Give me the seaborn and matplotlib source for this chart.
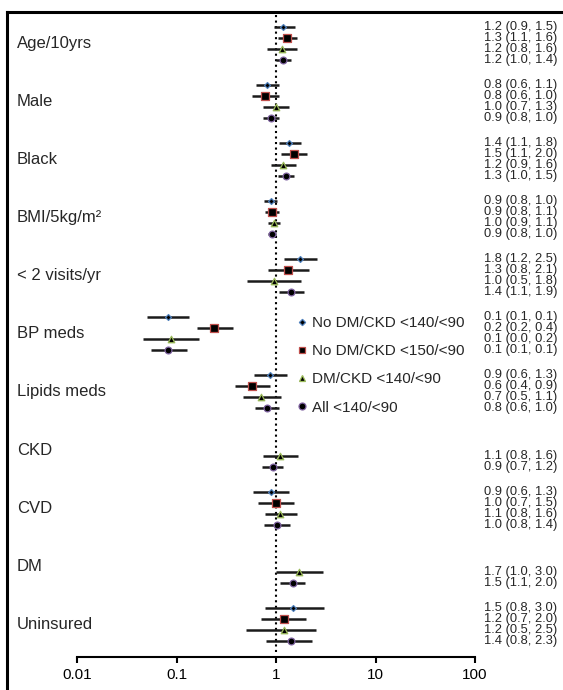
import numpy as np
import pandas as pd
import matplotlib
matplotlib.use('Agg')
import matplotlib.pyplot as plt
import matplotlib.transforms as mtrans
from matplotlib.lines import Line2D
import seaborn as sns

sns.set_theme(style="white")
plt.rcParams['font.family'] = ['Liberation Sans', 'DejaVu Sans']

nan = np.nan

groups = ['Age/10yrs', 'Male', 'Black', 'BMI/5kg/m\u00b2', '< 2 visits/yr', 'BP meds',
          'Lipids meds', 'CKD', 'CVD', 'DM', 'Uninsured']
series = ['No DM/CKD <140/<90', 'No DM/CKD <150/<90', 'DM/CKD <140/<90', 'All <140/<90']

# odds ratios + CI (nan = variable not in that model)
est_a = [1.17, 0.81, 1.36, 0.88, 1.74, 0.082, 0.87, nan, 0.89, nan, 1.48]
lo_a = [0.96, 0.63, 1.06, 0.76, 1.20, 0.050, 0.60, nan, 0.59, nan, 0.78]
hi_a = [1.55, 1.06, 1.77, 1.02, 2.56, 0.135, 1.30, nan, 1.35, nan, 3.0]

est_b = [1.30, 0.78, 1.53, 0.91, 1.33, 0.238, 0.58, nan, 0.99, nan, 1.2]
lo_b = [1.05, 0.58, 1.13, 0.78, 0.83, 0.162, 0.39, nan, 0.66, nan, 0.7]
hi_b = [1.61, 1.06, 2.06, 1.08, 2.16, 0.367, 0.87, nan, 1.53, nan, 2.0]

est_c = [1.14, 1.0, 1.17, 0.955, 0.955, 0.087, 0.71, 1.10, 1.10, 1.72, 1.2]
lo_c = [0.82, 0.735, 0.885, 0.837, 0.515, 0.046, 0.47, 0.745, 0.77, 1.0, 0.5]
hi_c = [1.64, 1.36, 1.58, 1.10, 1.77, 0.168, 1.11, 1.65, 1.63, 2.99, 2.5]

est_d = [1.18, 0.885, 1.26, 0.91, 1.41, 0.083, 0.81, 0.93, 1.02, 1.48, 1.4]
lo_d = [1.0, 0.746, 1.05, 0.837, 1.06, 0.055, 0.61, 0.73, 0.76, 1.10, 0.8]
hi_d = [1.40, 1.06, 1.53, 1.0, 1.91, 0.127, 1.08, 1.18, 1.38, 1.97, 2.3]

# printed estimates in the right-hand column
lab_a = ['1.2 (0.9, 1.5)', '0.8 (0.6, 1.1)', '1.4 (1.1, 1.8)', '0.9 (0.8, 1.0)', '1.8 (1.2, 2.5)',
         '0.1 (0.1, 0.1)', '0.9 (0.6, 1.3)', '', '0.9 (0.6, 1.3)', '', '1.5 (0.8, 3.0)']
lab_b = ['1.3 (1.1, 1.6)', '0.8 (0.6, 1.0)', '1.5 (1.1, 2.0)', '0.9 (0.8, 1.1)', '1.3 (0.8, 2.1)',
         '0.2 (0.2, 0.4)', '0.6 (0.4, 0.9)', '', '1.0 (0.7, 1.5)', '', '1.2 (0.7, 2.0)']
lab_c = ['1.2 (0.8, 1.6)', '1.0 (0.7, 1.3)', '1.2 (0.9, 1.6)', '1.0 (0.9, 1.1)', '1.0 (0.5, 1.8)',
         '0.1 (0.0, 0.2)', '0.7 (0.5, 1.1)', '1.1 (0.8, 1.6)', '1.1 (0.8, 1.6)', '1.7 (1.0, 3.0)', '1.2 (0.5, 2.5)']
lab_d = ['1.2 (1.0, 1.4)', '0.9 (0.8, 1.0)', '1.3 (1.0, 1.5)', '0.9 (0.8, 1.0)', '1.4 (1.1, 1.9)',
         '0.1 (0.1, 0.1)', '0.8 (0.6, 1.0)', '0.9 (0.7, 1.2)', '1.0 (0.8, 1.4)', '1.5 (1.1, 2.0)', '1.4 (0.8, 2.3)']

xticks = [0.01, 0.1, 1, 10, 100]
xticklabels = ['0.01', '0.1', '1', '10', '100']

# styles
markers = ['D', 's', '^', 'o']
sizes = [9, 26, 22, 24]
edges = ['#4f81bd', '#c0504d', '#9bbb59', '#8064a2']
group_step = 5.28

rows = []
for k, (e, l, h, t) in enumerate([(est_a, lo_a, hi_a, lab_a), (est_b, lo_b, hi_b, lab_b),
                                   (est_c, lo_c, hi_c, lab_c), (est_d, lo_d, hi_d, lab_d)]):
    for g in range(len(groups)):
        rows.append(dict(series=series[k], k=k, g=g, pos=g * group_step + k,
                         est=e[g], lo=l[g], hi=h[g], label=t[g]))
df = pd.DataFrame(rows)

fig = plt.figure(figsize=(5.63, 6.90), dpi=100)
ax = fig.add_axes([0, 0, 1, 1])
ax.set_xscale('log')
ax.set_xlim(10 ** -2.774, 10 ** 2.884)
ax.set_ylim(60.27, -2.455)

# reference line at OR = 1
ax.axvline(1, ymin=0.055, ymax=0.981, color='black', ls=':', lw=1.5, zorder=1)

d = df.dropna(subset=['est'])
ax.hlines(d['pos'], d['lo'], d['hi'], color='#1a1a1a', lw=1.8, zorder=2)
for k in range(4):
    sub = d[d['k'] == k]
    sns.scatterplot(data=sub, x='est', y='pos', marker=markers[k], s=sizes[k],
                    color='black', edgecolor=edges[k], linewidth=0.9, zorder=3, ax=ax)

tr = mtrans.blended_transform_factory(ax.transAxes, ax.transData)
for g, name in enumerate(groups):
    ax.text(17 / 563, g * group_step + 1.5, name, transform=tr, fontsize=12,
            ha='left', va='center')
for _, r in df.iterrows():
    if r['label']:
        ax.text(484 / 563, r['pos'], r['label'], transform=tr, fontsize=9.3,
                ha='left', va='center')

# bottom axis only
for s in ['top', 'left', 'right']:
    ax.spines[s].set_visible(False)
ax.spines['bottom'].set_position(('data', 57.27))
ax.spines['bottom'].set_bounds(0.01, 100)
ax.spines['bottom'].set_color('black')
ax.spines['bottom'].set_linewidth(1.5)
ax.set_xticks(xticks)
ax.set_xticklabels(xticklabels)
ax.xaxis.set_minor_locator(matplotlib.ticker.NullLocator())
ax.tick_params(axis='x', bottom=True, direction='out', length=4, width=1.5,
               labelsize=11, pad=4, colors='black')
ax.set_yticks([])
ax.set_xlabel('')
ax.set_ylabel('')
ax.grid(False)

handles = [Line2D([], [], ls='none', marker=markers[k], markersize=[3.2, 5.0, 5.0, 5.0][k],
                  markerfacecolor='black', markeredgecolor=edges[k], markeredgewidth=0.9)
           for k in range(4)]
ax.legend(handles, series, loc='upper left', bbox_to_anchor=(297 / 563, 1 - 316 / 690),
          bbox_transform=fig.transFigure, frameon=False, fontsize=11, handlelength=0.6,
          handletextpad=0.35, labelspacing=0.93, borderpad=0, borderaxespad=0)

# outer frame (left and top edges only show in the crop)
fig.add_artist(Line2D([6.5 / 563, 6.5 / 563], [0, 1 - 11.5 / 690], color='black', lw=2.2,
                      transform=fig.transFigure, solid_capstyle='projecting'))
fig.add_artist(Line2D([6.5 / 563, 1], [1 - 11.5 / 690, 1 - 11.5 / 690], color='black', lw=2.2,
                      transform=fig.transFigure, solid_capstyle='projecting'))

fig.savefig('out.png', dpi=100)
